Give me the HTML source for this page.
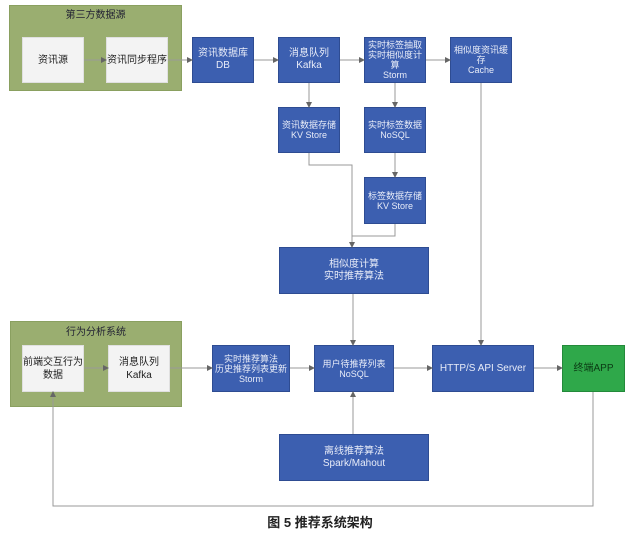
<!DOCTYPE html>
<html><head><meta charset="utf-8"><style>
body{margin:0;width:640px;height:536px;background:#fff;position:relative;overflow:hidden;font-family:"Liberation Sans","Noto Sans CJK SC",sans-serif}
.b{position:absolute;background:#3c5fb0;border:1px solid #2e4c92;color:#e8ecf8;font-size:10px;line-height:12px;display:flex;align-items:center;justify-content:center;text-align:center;box-sizing:border-box;white-space:nowrap}
.s{font-size:9px;line-height:10px}
.w{position:absolute;background:#f3f3f3;color:#222;font-size:10px;line-height:13px;display:flex;align-items:center;justify-content:center;text-align:center;box-sizing:border-box;border:1px solid #e0e0e0}
.g{position:absolute;background:#9aae70;border:1px solid #8aa060;box-sizing:border-box}
.t{position:absolute;font-size:10px;color:#223;text-align:center}
</style></head><body>
<div class="g" style="left:9px;top:5px;width:173px;height:86px"></div>
<div class="t" style="left:9px;top:6px;width:173px">第三方数据源</div>
<div class="w" style="left:22px;top:37px;width:62px;height:46px">资讯源</div>
<div class="w" style="left:106px;top:37px;width:62px;height:46px">资讯同步程序</div>
<div class="g" style="left:10px;top:321px;width:172px;height:86px"></div>
<div class="t" style="left:10px;top:323px;width:172px">行为分析系统</div>
<div class="w" style="left:22px;top:345px;width:62px;height:47px">前端交互行为<br>数据</div>
<div class="w" style="left:108px;top:345px;width:62px;height:47px">消息队列<br>Kafka</div>

<div class="b" style="left:192px;top:37px;width:62px;height:46px">资讯数据库<br>DB</div>
<div class="b" style="left:278px;top:37px;width:62px;height:46px">消息队列<br>Kafka</div>
<div class="b s" style="left:364px;top:37px;width:62px;height:46px">实时标签抽取<br>实时相似度计<br>算<br>Storm</div>
<div class="b s" style="left:450px;top:37px;width:62px;height:46px">相似度资讯缓<br>存<br>Cache</div>
<div class="b s" style="left:278px;top:107px;width:62px;height:46px">资讯数据存储<br>KV Store</div>
<div class="b s" style="left:364px;top:107px;width:62px;height:46px">实时标签数据<br>NoSQL</div>
<div class="b s" style="left:364px;top:177px;width:62px;height:47px">标签数据存储<br>KV Store</div>
<div class="b" style="left:279px;top:247px;width:150px;height:47px">相似度计算<br>实时推荐算法</div>
<div class="b s" style="left:212px;top:345px;width:78px;height:47px">实时推荐算法<br>历史推荐列表更新<br>Storm</div>
<div class="b s" style="left:314px;top:345px;width:80px;height:47px">用户待推荐列表<br>NoSQL</div>
<div class="b" style="left:432px;top:345px;width:102px;height:47px">HTTP/S API Server</div>
<div class="b" style="left:562px;top:345px;width:63px;height:47px;background:#2fa84a;border-color:#238a3a;color:#0b3a14">终端APP</div>
<div class="b" style="left:279px;top:434px;width:150px;height:47px">离线推荐算法<br>Spark/Mahout</div>

<svg width="640" height="536" style="position:absolute;left:0;top:0" fill="none" stroke="#999" stroke-width="1">
<defs><marker id="a" markerWidth="6" markerHeight="6" refX="5" refY="3" orient="auto"><path d="M0,0L6,3L0,6z" fill="#666" stroke="none"/></marker></defs>
<path d="M84,60H106" marker-end="url(#a)"/>
<path d="M168,60H192" marker-end="url(#a)"/>
<path d="M254,60H278" marker-end="url(#a)"/>
<path d="M340,60H364" marker-end="url(#a)"/>
<path d="M426,60H450" marker-end="url(#a)"/>
<path d="M309,83V107" marker-end="url(#a)"/>
<path d="M395,83V107" marker-end="url(#a)"/>
<path d="M395,153V177" marker-end="url(#a)"/>
<path d="M309,153V165H352V247" marker-end="url(#a)"/>
<path d="M395,224V236H352"/>
<path d="M481,83V345" marker-end="url(#a)"/>
<path d="M353,294V345" marker-end="url(#a)"/>
<path d="M353,434V392" marker-end="url(#a)"/>
<path d="M84,368H108" marker-end="url(#a)"/>
<path d="M170,368H212" marker-end="url(#a)"/>
<path d="M290,368H314" marker-end="url(#a)"/>
<path d="M394,368H432" marker-end="url(#a)"/>
<path d="M534,368H562" marker-end="url(#a)"/>
<path d="M593,392V506H53V392" marker-end="url(#a)"/>
</svg>
<div class="t" style="left:0;width:640px;top:512px;font-size:13px;color:#222;font-weight:bold">图 5 推荐系统架构</div>
</body></html>
